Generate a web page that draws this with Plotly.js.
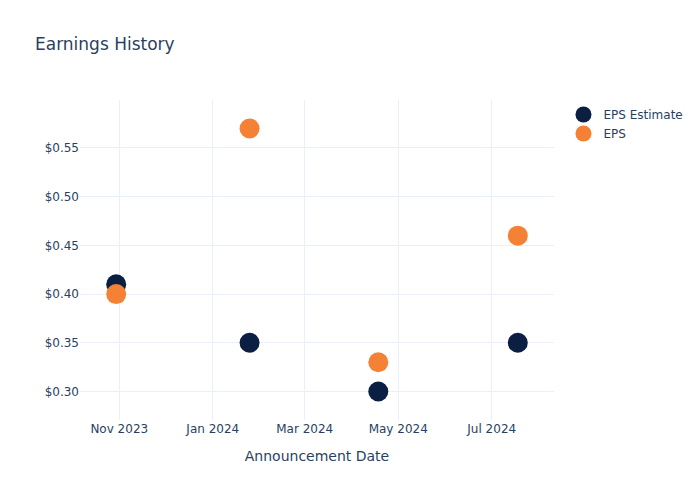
<!DOCTYPE html>
<html>
<head>
<meta charset="utf-8">
<script src="https://cdn.plot.ly/plotly-3.0.1.min.js"></script>
<style>html,body{margin:0;padding:0;background:#fff;}#chart{width:700px;height:500px;}</style>
</head>
<body>
<div id="chart"></div>
<script>
const dates = ["2023-10-30", "2024-01-25", "2024-04-18", "2024-07-18"];
const epsEstimate = [0.41, 0.35, 0.30, 0.35];
const eps = [0.40, 0.57, 0.33, 0.46];

const traces = [
  {
    x: dates, y: epsEstimate, name: "EPS Estimate", type: "scatter", mode: "markers",
    marker: {color: "#0b1f42", size: 20}
  },
  {
    x: dates, y: eps, name: "EPS", type: "scatter", mode: "markers",
    marker: {color: "#f58134", size: 20}
  }
];

const layout = {
  width: 700, height: 500,
  title: {text: "Earnings History", x: 0.05, font: {size: 17}},
  paper_bgcolor: "#fff", plot_bgcolor: "#fff",
  font: {color: "#2a3f5f", family: "DejaVu Sans, Verdana, sans-serif"},
  xaxis: {
    title: {text: "Announcement Date", standoff: 16},
    gridcolor: "#EBF0F8", zeroline: false, type: "date", automargin: false
  },
  yaxis: {
    tickprefix: "$", tickformat: ".2f",
    gridcolor: "#EBF0F8", zeroline: false
  },
  legend: {x: 1.02, y: 1}
};

Plotly.newPlot("chart", traces, layout, {displayModeBar: false});
</script>
</body>
</html>
